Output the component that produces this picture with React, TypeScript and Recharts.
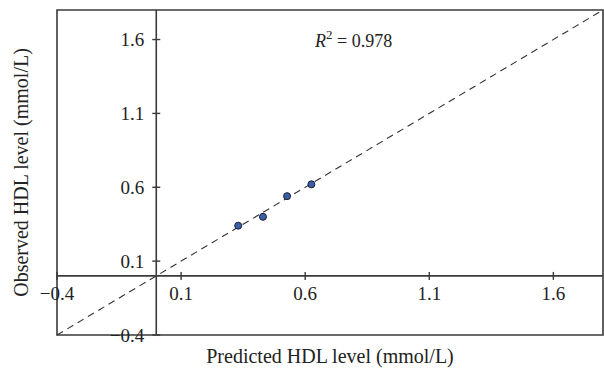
import { ScatterChart, Scatter, XAxis, YAxis, ReferenceLine, ReferenceArea, ReferenceDot } from "recharts";

// predicted vs observed HDL (mmol/L)
const predicted = [0.33, 0.43, 0.527, 0.625];
const observed = [0.34, 0.4, 0.54, 0.62];

const domainMin = -0.4;
const domainMax = 1.8;
const xTicks = [-0.4, 0.1, 0.6, 1.1, 1.6];
const yTicks = [-0.4, 0.1, 0.6, 1.1, 1.6];
const rSquared = "0.978";

const FONT = "'Liberation Serif', 'Times New Roman', serif";
const INK = "#3a3a3a";

const points = predicted.map((x, i) => ({ x, y: observed[i] }));

const fmt = (v: number) => (v < 0 ? `\u2212${Math.abs(v)}` : String(v));

// tick mark + label drawn where the axis crosses the origin
const XTick = (label: string) => (p: any) => (
    <g>
        <line x1={p.cx} x2={p.cx} y1={p.cy - 4} y2={p.cy + 4} stroke={INK} strokeWidth={1.4} />
        <text x={p.cx} y={p.cy + 24} textAnchor="middle" fontFamily={FONT} fontSize={19} fill="#222">
            {label}
        </text>
    </g>
);

const YTick = (label: string) => (p: any) => (
    <g>
        <line x1={p.cx - 4} x2={p.cx + 4} y1={p.cy} y2={p.cy} stroke={INK} strokeWidth={1.4} />
        <text x={p.cx - 12} y={p.cy + 6.5} textAnchor="end" fontFamily={FONT} fontSize={19} fill="#222">
            {label}
        </text>
    </g>
);

export default function App() {
    return (
        <div style={{ position: "fixed", left: 0, top: 0, background: "#fff" }}>
            <ScatterChart width={604} height={368} margin={{ top: 10, right: 1, bottom: 0, left: 0 }}>
                <XAxis
                    type="number"
                    dataKey="x"
                    domain={[domainMin, domainMax]}
                    ticks={xTicks}
                    allowDataOverflow
                    height={33}
                    tick={false}
                    tickLine={false}
                    axisLine={false}
                    label={{
                        content: (props: any) => {
                            const vb = props.viewBox;
                            return (
                                <text x={vb.x + vb.width / 2} y={vb.y + 28} textAnchor="middle" fontFamily={FONT} fontSize={20} fill="#222">
                                    Predicted HDL level (mmol/L)
                                </text>
                            );
                        },
                    }}
                />
                <YAxis
                    type="number"
                    dataKey="y"
                    domain={[domainMin, domainMax]}
                    ticks={yTicks}
                    allowDataOverflow
                    width={57}
                    tick={false}
                    tickLine={false}
                    axisLine={false}
                    label={{
                        content: (props: any) => {
                            const vb = props.viewBox;
                            const cx = 28;
                            const cy = vb.y + vb.height / 2;
                            return (
                                <text x={cx} y={cy} transform={`rotate(-90 ${cx} ${cy})`} textAnchor="middle" fontFamily={FONT} fontSize={20} fill="#222">
                                    Observed HDL level (mmol/L)
                                </text>
                            );
                        },
                    }}
                />

                {/* frame */}
                <ReferenceArea
                    x1={domainMin}
                    x2={domainMax}
                    y1={domainMin}
                    y2={domainMax}
                    fill="none"
                    stroke={INK}
                    strokeWidth={1.6}
                    fillOpacity={0}
                    label={{
                        content: (props: any) => {
                            const vb = props.viewBox;
                            return (
                                <text x={vb.x + 258} y={vb.y + 37} fontFamily={FONT} fontSize={18} fill="#222">
                                    <tspan fontStyle="italic">R</tspan>
                                    <tspan dy={-8} fontSize={13}>2</tspan>
                                    <tspan dy={8}> = {rSquared}</tspan>
                                </text>
                            );
                        },
                    }}
                />

                {/* identity line */}
                <ReferenceLine
                    segment={[{ x: domainMin, y: domainMin }, { x: domainMax, y: domainMax }]}
                    stroke="#333"
                    strokeWidth={1.1}
                    strokeDasharray="7 5"
                />

                {/* axes through the origin */}
                <ReferenceLine x={0} stroke={INK} strokeWidth={1.6} />
                <ReferenceLine y={0} stroke={INK} strokeWidth={1.6} />

                {xTicks.map(v => (
                    <ReferenceDot key={`x${v}`} x={v} y={0} r={0} shape={XTick(fmt(v))} />
                ))}
                {yTicks.map(v => (
                    <ReferenceDot key={`y${v}`} x={0} y={v} r={0} shape={YTick(fmt(v))} />
                ))}

                <Scatter
                    data={points}
                    fill="#3b5ea8"
                    stroke="#1b1f33"
                    strokeWidth={1}
                    isAnimationActive={false}
                    shape={(p: any) => <circle cx={p.cx} cy={p.cy} r={3.5} fill="#3b5ea8" stroke="#1b1f33" strokeWidth={1} />}
                />
            </ScatterChart>
        </div>
    );
}
